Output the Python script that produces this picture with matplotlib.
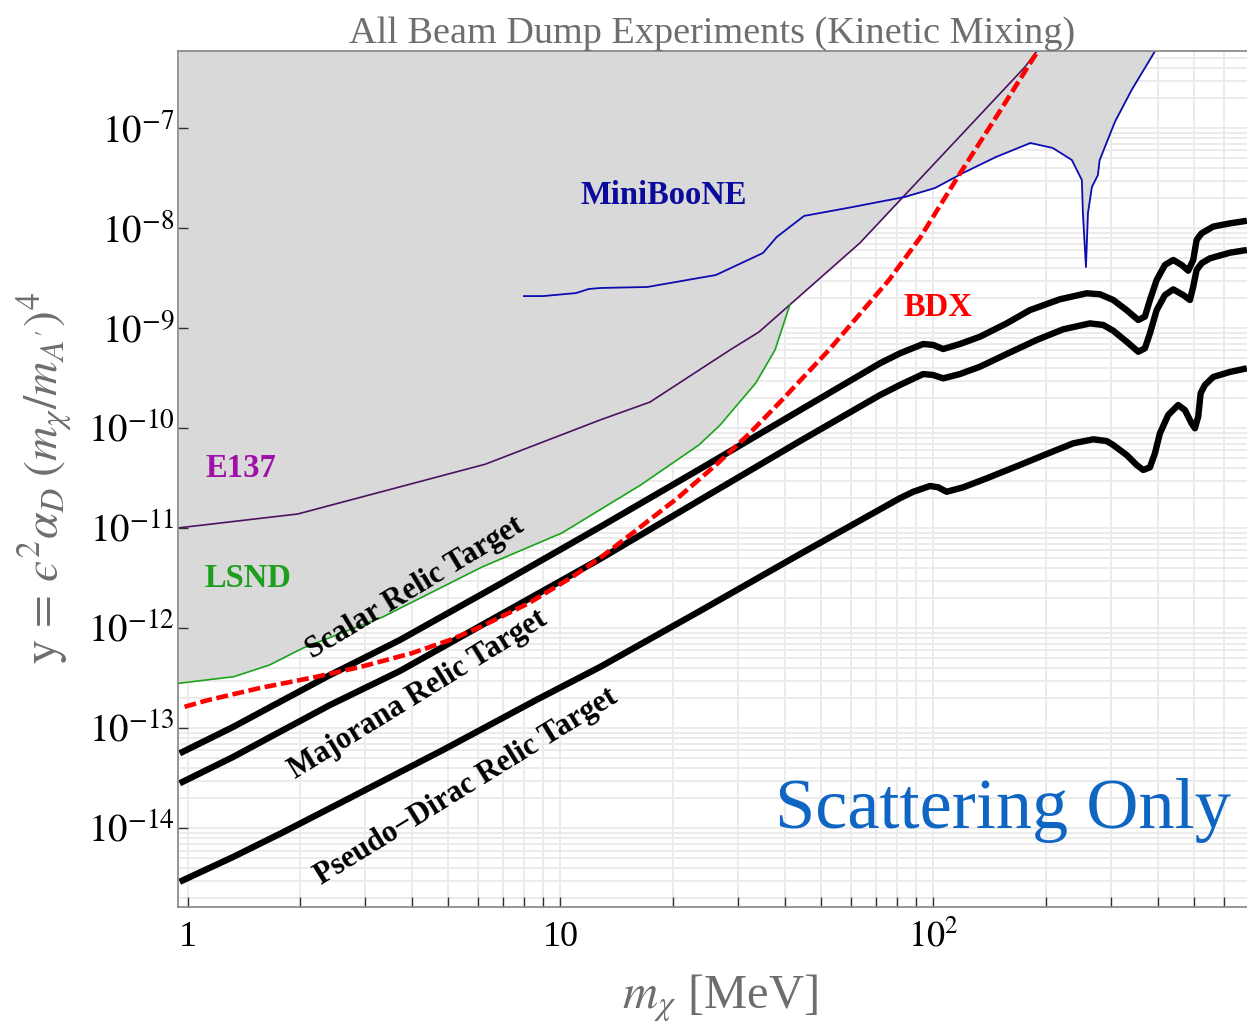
import numpy as np
import matplotlib
matplotlib.use('Agg')
import matplotlib.pyplot as plt
from matplotlib.ticker import FixedLocator, FixedFormatter, NullFormatter, NullLocator, LogLocator

# ---------------- data ----------------
e137_m = [0.947, 1.974, 6.28, 12.76, 17.38, 28.47, 34.05, 63.5, 175.9, 189.5]
e137_y = [1.01e-11, 1.39e-11, 4.37e-11, 1.21e-10, 1.83e-10, 6.07e-10, 9.18e-10, 7.13e-9, 4.10e-7, 5.93e-7]

lsnd_m = [0.947, 1.33, 1.66, 2.04, 3.34, 6.16, 10.1, 16.4, 23.5, 26.8, 33.4, 37.6, 41.2]
lsnd_y = [2.82e-13, 3.28e-13, 4.30e-13, 6.35e-13, 1.30e-12, 4.10e-12, 9.0e-12, 2.71e-11,
          6.81e-11, 1.08e-10, 2.84e-10, 6.07e-10, 1.71e-9]

mb_m = [7.98, 8.98, 11.0, 11.9, 12.8, 17.1, 26.1, 34.9, 38.0, 45.0, 59.0, 83.9, 101, 120,
        147, 182, 209, 235, 250, 251.6, 256.4, 259.6, 266, 276, 279, 306.6, 340, 393]
mb_y = [2.10e-9, 2.10e-9, 2.25e-9, 2.47e-9, 2.53e-9, 2.59e-9, 3.41e-9, 5.66e-9, 8.18e-9,
        1.33e-8, 1.60e-8, 2.06e-8, 2.53e-8, 3.57e-8, 5.16e-8, 7.13e-8, 6.35e-8, 4.82e-8,
        3.04e-8, 1.42e-8, 4.10e-9, 1.42e-8, 2.59e-8, 3.4e-8, 4.8e-8, 1.16e-7, 2.42e-7, 5.93e-7]

bdx_m = [0.982, 1.126, 1.564, 2.203, 2.901, 4.009, 5.055, 6.092, 8.215, 10.75, 12.76, 15.87,
         20.78, 26.41, 32.21, 39.26, 52.47, 75.99, 91.99, 117.1, 150.8, 190.6]
bdx_y = [1.64e-13, 1.90e-13, 2.53e-13, 3.26e-13, 4.10e-13, 5.66e-13, 7.64e-13, 1.03e-12,
         1.78e-12, 3.26e-12, 5.05e-12, 9.40e-12, 2.06e-11, 4.47e-11, 8.97e-11, 1.92e-10,
         6.07e-10, 3.04e-9, 8.0e-9, 3.41e-8, 1.49e-7, 5.93e-7]

scalar_m = [0.953, 1.324, 1.686, 2.41, 3.71, 6.88, 12.76, 23.66, 43.9, 71.9, 81.3, 93.9, 99.9,
            106.2, 117.8, 133.3, 157.1, 181.4, 218.3, 257.5, 279.5, 303.4, 329.6, 354.1, 369.0,
            380.6, 396.7, 417.5, 439.5, 462.9, 482.1, 497.2, 507.7, 523.6, 562.5, 623.5, 692.6]
scalar_y = [5.62e-14, 1.03e-13, 1.67e-13, 3.41e-13, 7.64e-13, 2.77e-12, 1.03e-11, 3.92e-11,
            1.52e-10, 4.47e-10, 5.62e-10, 6.97e-10, 6.81e-10, 6.21e-10, 6.97e-10, 8.24e-10,
            1.12e-9, 1.52e-9, 1.95e-9, 2.24e-9, 2.19e-9, 1.92e-9, 1.52e-9, 1.21e-9, 1.31e-9,
            1.92e-9, 3.04e-9, 4.30e-9, 4.82e-9, 4.30e-9, 3.77e-9, 4.82e-9, 7.64e-9, 8.91e-9,
            1.04e-8, 1.12e-8, 1.19e-8]

majorana_m = [0.953, 1.324, 1.686, 2.41, 3.71, 6.88, 12.76, 23.66, 43.9, 71.9, 81.3, 93.9, 99.9,
              106.2, 117.8, 133.3, 157.1, 189.1, 222.8, 262.8, 285.2, 303.4, 329.6, 354.1, 369.0,
              380.6, 396.7, 417.5, 439.5, 467.5, 487.2, 497.2, 507.7, 523.6, 551.2, 623.5, 692.6]
majorana_y = [2.82e-14, 5.16e-14, 8.38e-14, 1.71e-13, 3.74e-13, 1.36e-12, 4.93e-12, 1.92e-11,
              7.46e-11, 2.15e-10, 2.71e-10, 3.49e-10, 3.41e-10, 3.16e-10, 3.49e-10, 4.13e-10,
              5.53e-10, 7.64e-10, 9.77e-10, 1.12e-9, 1.08e-9, 9.46e-10, 7.35e-10, 5.83e-10,
              6.31e-10, 8.91e-10, 1.52e-9, 2.15e-9, 2.45e-9, 2.15e-9, 1.92e-9, 2.61e-9, 3.83e-9,
              4.47e-9, 5.01e-9, 5.70e-9, 6.07e-9]

pdirac_m = [0.953, 1.324, 1.787, 2.564, 4.84, 8.70, 12.76, 23.66, 43.9, 81.3, 88.3, 97.9, 103.0,
            108.5, 120.2, 138.9, 170.6, 201.1, 237.1, 268.2, 291.3, 303.4, 329.6, 350.6, 365.2,
            380.6, 392.5, 404.8, 426.1, 453.3, 472.4, 492.3, 502.4, 512.8, 520.5, 534.4, 562.5,
            623.5, 692.6]
pdirac_y = [2.92e-15, 5.16e-15, 8.97e-15, 1.79e-14, 6.07e-14, 1.96e-13, 4.10e-13, 1.49e-12,
            5.53e-12, 2.00e-11, 2.32e-11, 2.65e-11, 2.57e-11, 2.32e-11, 2.57e-11, 3.16e-11,
            4.30e-11, 5.53e-11, 7.08e-11, 7.76e-11, 7.46e-11, 6.81e-11, 5.41e-11, 4.30e-11,
            3.83e-11, 4.07e-11, 5.62e-11, 8.91e-11, 1.36e-10, 1.71e-10, 1.52e-10, 1.12e-10,
            1.00e-10, 1.31e-10, 2.24e-10, 2.71e-10, 3.26e-10, 3.66e-10, 3.98e-10]

x_ticks = [1, 10, 100]
x_tick_labels = ['1', '10', r'$10^{2}$']
y_ticks = [1e-14, 1e-13, 1e-12, 1e-11, 1e-10, 1e-9, 1e-8, 1e-7]
y_tick_labels = [r'$10^{-14}$', r'$10^{-13}$', r'$10^{-12}$', r'$10^{-11}$',
                 r'$10^{-10}$', r'$10^{-9}$', r'$10^{-8}$', r'$10^{-7}$']

XLIM = (0.943, 693)
YLIM = (1.645e-15, 5.97e-7)

# ---------------- style ----------------
plt.rcParams['font.family'] = ['Liberation Serif', 'DejaVu Serif']
plt.rcParams['mathtext.fontset'] = 'stix'

fig = plt.figure(figsize=(12.47, 10.27), dpi=100)
pos = [178 / 1247, 1 - 906.7 / 1027, (1247 - 178) / 1247, (906.7 - 50.7) / 1027]

ax = fig.add_axes(pos)
ax.set_xscale('log')
ax.set_yscale('log')
ax.set_xlim(*XLIM)
ax.set_ylim(*YLIM)
ax.xaxis.set_major_locator(FixedLocator(x_ticks))
ax.xaxis.set_minor_locator(LogLocator(base=10, subs=np.arange(2, 10), numticks=50))
ax.yaxis.set_major_locator(FixedLocator(y_ticks))
ax.yaxis.set_minor_locator(LogLocator(base=10, subs=np.arange(2, 10), numticks=50))
ax.set_axisbelow(True)
ax.grid(True, which='both', color='#ebebeb', lw=1.4)
ax.tick_params(which='both', length=0, labelbottom=False, labelleft=False)
for s in ax.spines.values():
    s.set_visible(False)

# ---------------- excluded region (envelope of the bounds) ----------------
grid = np.sort(np.concatenate([np.logspace(np.log10(XLIM[0]), np.log10(XLIM[1]), 4000),
                               e137_m, lsnd_m, mb_m]))
lg = np.log10(grid)
bounds = []
for cm, cy in [(e137_m, e137_y), (lsnd_m, lsnd_y), (mb_m, mb_y)]:
    bounds.append(np.interp(lg, np.log10(cm), np.log10(cy), left=np.inf, right=np.inf))
low = np.min(np.vstack(bounds), axis=0)
ok = np.isfinite(low)
ax.fill_between(grid[ok], 10 ** low[ok], 1e-5, color='#d9d9d9', lw=0, zorder=1)

# ---------------- curves ----------------
ax.plot(e137_m, e137_y, color='#4b1160', lw=1.2, zorder=3)
ax.plot(lsnd_m, lsnd_y, color='#1aa51a', lw=1.2, zorder=3)
ax.plot(mb_m, mb_y, color='#0c0cb0', lw=1.3, zorder=3)
for cm, cy in [(scalar_m, scalar_y), (majorana_m, majorana_y), (pdirac_m, pdirac_y)]:
    ax.plot(cm, cy, color='black', lw=4.6, solid_joinstyle='round', solid_capstyle='butt', zorder=4)
ax.plot(bdx_m, bdx_y, color='#ff0000', lw=3.3, dashes=(2.6, 1.0), zorder=5)

# ---------------- labels ----------------
bold = dict(fontweight='bold', fontsize=23.5, ha='center', va='center', zorder=6)
ax.text(18.9, 2.15e-8, 'MiniBooNE', color='#0a0a9c', **bold)
ax.text(102.8, 1.6e-9, 'BDX', color='#ff0000', **bold)
ax.text(1.39, 4.0e-11, 'E137', color='#a010a8', **bold)
ax.text(1.45, 3.18e-12, 'LSND', color='#1e9e1e', **bold)
rel = dict(fontweight='bold', fontsize=22, ha='center', va='center', zorder=6,
           color='black', rotation_mode='anchor')
ax.text(4.07, 2.53e-12, 'Scalar Relic Target', rotation=31.2, **rel)
ax.text(4.15, 2.15e-13, 'Majorana Relic Target', rotation=31.6, **rel)
ax.text(5.58, 2.59e-14, 'Pseudo\u2212Dirac Relic Target', rotation=31.7, **rel)
ax.text(153.6, 1.52e-14, 'Scattering Only', color='#0f66c2', fontsize=52,
        ha='center', va='center', zorder=6)

# ---------------- overlay axes for frame / ticks ----------------
ax2 = fig.add_axes(pos)
ax2.patch.set_visible(False)
ax2.set_xscale('log')
ax2.set_yscale('log')
ax2.set_xlim(*XLIM)
ax2.set_ylim(*YLIM)
ax2.xaxis.set_major_locator(FixedLocator(x_ticks))
ax2.xaxis.set_major_formatter(FixedFormatter(x_tick_labels))
ax2.xaxis.set_minor_locator(LogLocator(base=10, subs=np.arange(2, 10), numticks=50))
ax2.xaxis.set_minor_formatter(NullFormatter())
ax2.yaxis.set_major_locator(FixedLocator(y_ticks))
ax2.yaxis.set_major_formatter(FixedFormatter(y_tick_labels))
ax2.yaxis.set_minor_locator(NullLocator())
ax2.tick_params(axis='both', which='both', direction='in', length=7, width=1.0,
                color='#333333', top=False, right=False)
ax2.tick_params(axis='x', which='major', labelsize=26, pad=10)
ax2.tick_params(axis='y', which='major', labelsize=28, pad=2.5)
for side in ['left', 'bottom', 'top']:
    ax2.spines[side].set_color('#8c8c8c')
    ax2.spines[side].set_linewidth(1.3)
ax2.spines['right'].set_visible(False)

ax2.set_title('All Beam Dump Experiments (Kinetic Mixing)', color='#6e6e6e',
              fontsize=27.5, pad=3)
fig.text(720 / 1247, 1 - 998 / 1027, r'$m_\chi$ [MeV]', color='#6e6e6e', fontsize=35,
         ha='center', va='center')
ylab = r"$\mathrm{y}\,=\," + "\u03f5" + r"^{2}\alpha_D\;(m_\chi/m_{A^{\prime}})^{4}$"
fig.text(45 / 1247, 1 - 478 / 1027, ylab,
         color='#6e6e6e', fontsize=34.5, rotation=90, ha='center', va='center')

fig.savefig('out.png', dpi=100)
